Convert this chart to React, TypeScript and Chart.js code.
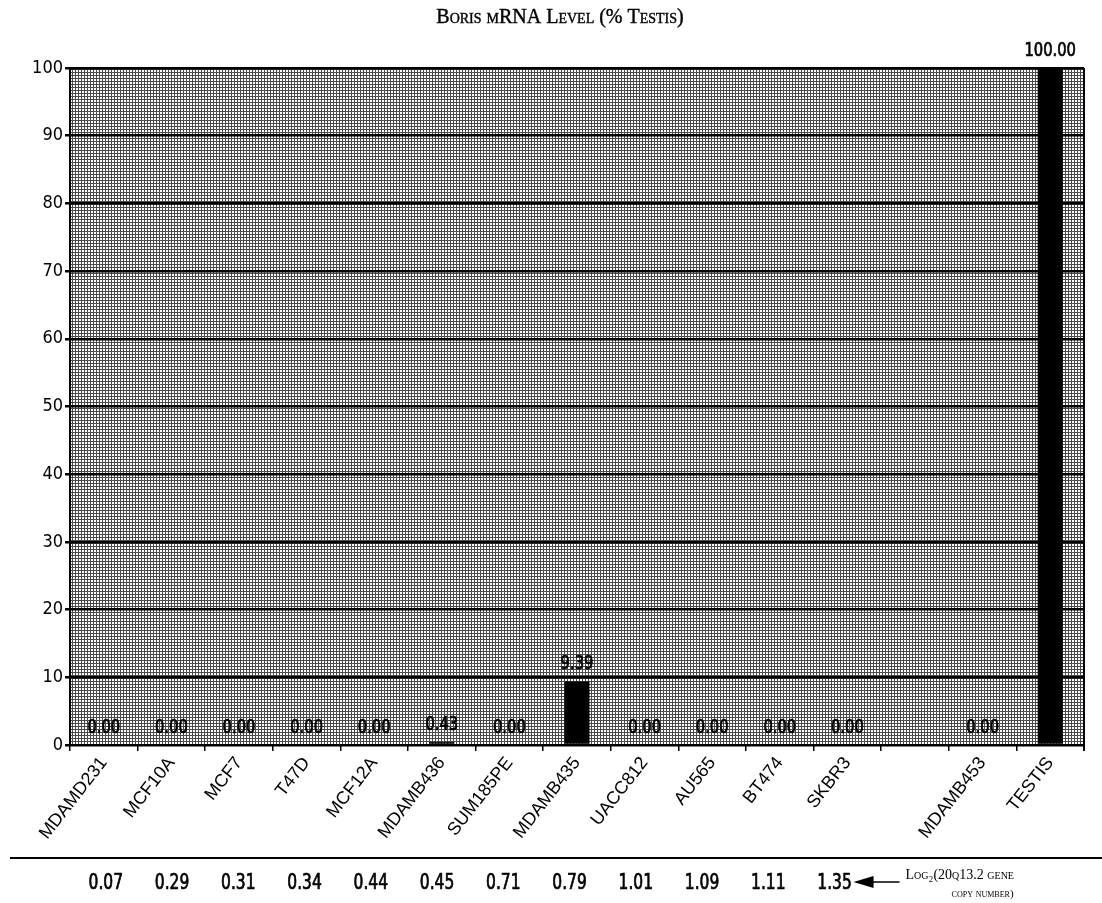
import React, { useEffect, useRef } from "react";
import { Chart, registerables } from "chart.js";

Chart.register(...registerables);

const categories = [
  "MDAMD231", "MCF10A", "MCF7", "T47D", "MCF12A", "MDAMB436", "SUM185PE",
  "MDAMB435", "UACC812", "AU565", "BT474", "SKBR3", "", "MDAMB453", "TESTIS",
];
const borisLevels: (number | null)[] = [0, 0, 0, 0, 0, 0.43, 0, 9.39, 0, 0, 0, 0, null, 0, 100];
const copyNumbers = [0.07, 0.29, 0.31, 0.34, 0.44, 0.45, 0.71, 0.79, 1.01, 1.09, 1.11, 1.35];
const yTickValues = [0, 10, 20, 30, 40, 50, 60, 70, 80, 90, 100];
const titleText = "Boris mRNA Level (% Testis)";
const noteLine1 = "Log\u2082(20q13.2 gene";
const noteLine2 = "copy number)";

const NARROW = '"Liberation Sans Narrow", "DejaVu Sans Condensed", "Liberation Sans", sans-serif';
const SANS = '"Liberation Sans", Arial, sans-serif';
const SERIF = '"Liberation Serif", "DejaVu Serif", serif';

function narrowText(ctx: CanvasRenderingContext2D, text: string, x: number, y: number, size: number) {
  ctx.save();
  ctx.translate(x, y);
  ctx.scale(0.82, 1);
  ctx.font = `${size}px ${NARROW}`;
  ctx.fillStyle = "#000";
  ctx.strokeStyle = "#000";
  ctx.lineWidth = 0.7;
  ctx.textAlign = "center";
  ctx.textBaseline = "alphabetic";
  ctx.fillText(text, 0, 0);
  ctx.strokeText(text, 0, 0);
  ctx.restore();
}

export default function App() {
  const ref = useRef<HTMLCanvasElement>(null);

  useEffect(() => {
    document.body.style.margin = "0";
    const canvas = ref.current!;
    const tile = document.createElement("canvas");
    tile.width = 3;
    tile.height = 3;
    const tctx = tile.getContext("2d")!;
    tctx.fillStyle = "#ffffff";
    tctx.fillRect(0, 0, 3, 3);
    tctx.fillStyle = "#4a4a4a";
    tctx.fillRect(0, 0, 3, 1);
    tctx.fillRect(0, 0, 1, 3);
    const pattern = canvas.getContext("2d")!.createPattern(tile, "repeat");

    const decor = {
      id: "decor",
      beforeDraw(chart: any) {
        const { ctx, chartArea: a } = chart;
        ctx.save();
        ctx.fillStyle = pattern;
        ctx.fillRect(a.left, a.top, a.right - a.left, a.bottom - a.top);
        ctx.restore();
      },
      afterDatasetsDraw(chart: any) {
        const { ctx } = chart;
        const meta = chart.getDatasetMeta(0);
        meta.data.forEach((bar: any, i: number) => {
          const v = borisLevels[i];
          if (v === null || v === undefined) return;
          narrowText(ctx, v.toFixed(2), bar.x, bar.y - 12, 20);
        });
      },
      afterDraw(chart: any) {
        const { ctx, chartArea: a, scales } = chart;
        const xs = scales.x;
        ctx.save();
        // title
        ctx.font = `small-caps 20px ${SERIF}`;
        ctx.fillStyle = "#000";
        ctx.strokeStyle = "#000";
        ctx.lineWidth = 0.4;
        ctx.textAlign = "center";
        ctx.textBaseline = "middle";
        ctx.fillText(titleText, 560, 18);
        ctx.strokeText(titleText, 560, 18);
        // right border
        ctx.lineWidth = 2;
        ctx.beginPath();
        ctx.moveTo(a.right, a.top);
        ctx.lineTo(a.right, a.bottom + 6);
        ctx.stroke();
        // separator line
        ctx.beginPath();
        ctx.moveTo(10, 858);
        ctx.lineTo(1102, 858);
        ctx.stroke();
        ctx.restore();
        // copy numbers
        let lastX = 0;
        copyNumbers.forEach((v, i) => {
          const x = xs.getPixelForValue(i * 0.98 + 0.03);
          lastX = x;
          narrowText(ctx, v.toFixed(2), x, 889, 21);
        });
        // arrow
        const tip = lastX + 19;
        ctx.save();
        ctx.fillStyle = "#000";
        ctx.strokeStyle = "#000";
        ctx.beginPath();
        ctx.moveTo(tip, 882);
        ctx.lineTo(tip + 20, 876);
        ctx.lineTo(tip + 20, 888);
        ctx.closePath();
        ctx.fill();
        ctx.lineWidth = 1.5;
        ctx.beginPath();
        ctx.moveTo(tip + 18, 882);
        ctx.lineTo(tip + 46, 882);
        ctx.stroke();
        // note
        ctx.font = `small-caps 14px ${SERIF}`;
        ctx.textAlign = "left";
        ctx.textBaseline = "middle";
        ctx.fillText(noteLine1, tip + 52, 875);
        ctx.font = `small-caps 11px ${SERIF}`;
        ctx.textAlign = "right";
        ctx.fillText(noteLine2, tip + 160, 894);
        ctx.restore();
      },
    };

    const chart = new Chart(canvas, {
      type: "bar",
      data: {
        labels: categories,
        datasets: [
          {
            data: borisLevels,
            backgroundColor: "#000",
            borderWidth: 0,
            barPercentage: 0.37,
            categoryPercentage: 1,
          },
        ],
      },
      options: {
        responsive: false,
        animation: false,
        layout: { padding: { top: 68, right: 18, left: 0, bottom: 0 } },
        plugins: {
          legend: { display: false },
          title: { display: false },
          tooltip: { enabled: false },
        },
        scales: {
          x: {
            offset: true,
            grid: {
              display: true,
              drawOnChartArea: false,
              drawTicks: true,
              tickLength: 6,
              color: "#000",
              lineWidth: 1.5,
              offset: true,
            },
            border: { display: true, color: "#000", width: 2 },
            ticks: {
              autoSkip: false,
              maxRotation: 52,
              minRotation: 52,
              color: "#000",
              font: { family: SANS, size: 18 },
              padding: 2,
            },
            afterFit: (s: any) => {
              s.height = 158;
            },
          },
          y: {
            min: 0,
            max: 100,
            afterBuildTicks: (s: any) => {
              s.ticks = yTickValues.map((v) => ({ value: v }));
            },
            ticks: {
              color: "#000",
              font: { family: NARROW, size: 18 },
              padding: 2,
            },
            grid: { color: "#000", lineWidth: 2.5, tickLength: 5, drawTicks: true },
            border: { color: "#000", width: 2 },
            afterFit: (s: any) => {
              s.width = 70;
            },
          },
        },
      },
      plugins: [decor],
    } as any);

    return () => chart.destroy();
  }, []);

  return (
    <div style={{ width: 1102, height: 903 }}>
      <canvas ref={ref} width={1102} height={903} style={{ display: "block" }} />
    </div>
  );
}
